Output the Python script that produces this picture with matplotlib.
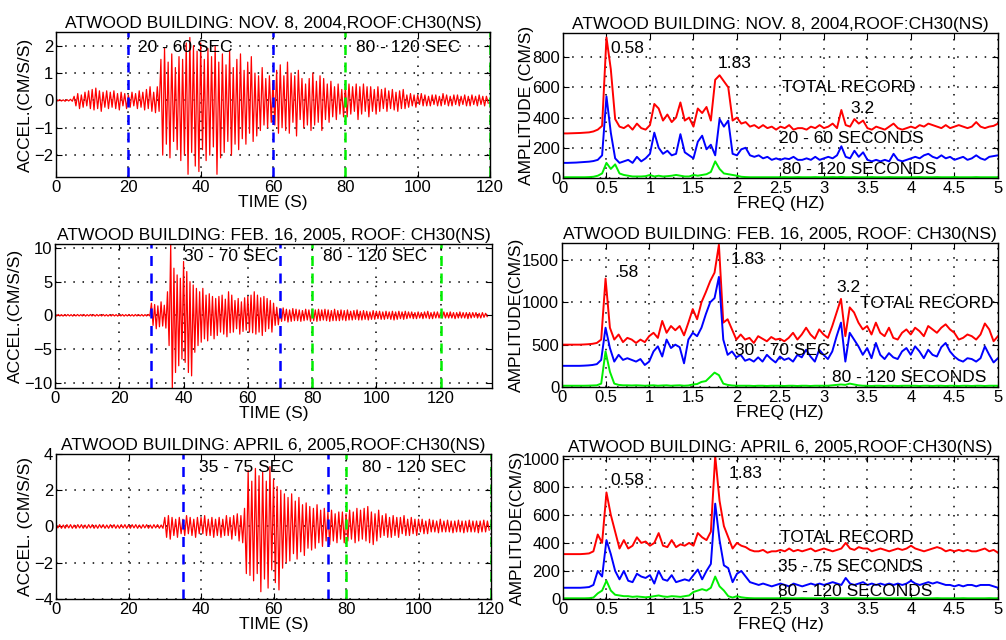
import numpy as np
import matplotlib
matplotlib.use('Agg')
import matplotlib.pyplot as plt

plt.rcParams['font.family'] = ['Liberation Sans', 'DejaVu Sans']

DT = 0.5      # sample step of the acceleration traces (s)
DF = 0.05     # frequency step of the spectra (Hz)
FS = 12.5     # titles, axis labels and notes
TS = 12       # tick labels

TITLES = ['ATWOOD BUILDING: NOV. 8, 2004,ROOF:CH30(NS)',
          'ATWOOD BUILDING: FEB. 16, 2005, ROOF: CH30(NS)',
          'ATWOOD BUILDING: APRIL 6, 2005,ROOF:CH30(NS)']

# acceleration records (cm/s/s), one value every DT seconds
acc_nov = [
    0.02, -0.02, 0.03, -0.02, 0.02, -0.03, 0.03, -0.02, 0.04, -0.03,
    0.15, -0.2, 0.25, -0.3, 0.2, -0.25, 0.3, -0.2, 0.35, -0.3,
    0.4, -0.35, 0.45, -0.3, 0.35, -0.4, 0.3, -0.25, 0.35, -0.3,
    0.3, -0.25, 0.35, -0.3, 0.25, -0.35, 0.3, -0.2, 0.25, -0.3,
    0.2, -0.25, 0.3, -0.2, 0.25, -0.3, 0.35, -0.25, 0.3, -0.35,
    0.4, -0.3, 0.5, -0.4, 0.3, -0.45, 0.5, -0.4, 1.5, -2.0,
    1.9, -1.6, 1.4, -2.1, 1.7, -1.5, 1.2, -1.8, 1.6, -2.2,
    1.5, -2.0, 2.1, -2.7, 2.3, -1.9, 2.0, -2.4, 1.8, -2.6,
    2.1, -1.8, 1.5, -2.2, 1.9, -2.0, 1.6, -1.7, 2.0, -2.7,
    1.4, -2.1, 1.7, -1.9, 1.3, -1.5, 1.8, -2.0, 1.2, -1.6,
    1.5, -1.8, 1.7, -1.4, 1.1, -1.6, 1.4, -1.2, 1.6, -1.5,
    1.0, -1.3, 0.9, -1.1, 1.2, -0.9, 0.8, -1.0, 0.9, -0.8,
    0.7, -0.9, 1.1, -1.2, 1.3, -1.0, 0.9, -1.1, 1.4, -1.2,
    1.0, -0.8, 0.9, -1.3, 1.1, -0.7, 0.8, -1.0, 0.6, -0.9,
    0.8, -1.1, 1.0, -0.9, 0.7, -0.8, 0.9, -1.1, 0.8, -0.7,
    0.6, -0.8, 0.7, -0.6, 0.5, -0.7, 0.6, -0.5, 0.4, -0.6,
    0.5, -0.6, 0.6, -0.5, 0.5, -0.4, 0.6, -0.7, 0.5, -0.5,
    0.6, -0.4, 0.5, -0.6, 0.5, -0.4, 0.4, -0.5, 0.5, -0.4,
    0.4, -0.3, 0.45, -0.4, 0.35, -0.3, 0.4, -0.35, 0.3, -0.4,
    0.35, -0.3, 0.4, -0.3, 0.2, -0.25, 0.25, -0.2, 0.2, -0.25,
    0.2, -0.15, 0.25, -0.2, 0.2, -0.2, 0.15, -0.2, 0.2, -0.15,
    0.2, -0.2, 0.15, -0.2, 0.25, -0.15, 0.2, -0.2, 0.15, -0.2,
    0.2, -0.15, 0.2, -0.2, 0.15, -0.15, 0.2, -0.2, 0.15, -0.2,
    0.2, -0.15, 0.15, -0.2, 0.2, -0.15, 0.15, -0.2, 0.15, -0.1,
]
acc_feb = [
    0.1, -0.1, 0.12, -0.1, 0.1, -0.12, 0.1, -0.1, 0.12, -0.1,
    0.1, -0.12, 0.1, -0.1, 0.12, -0.1, 0.1, -0.1, 0.12, -0.12,
    0.1, -0.1, 0.12, -0.1, 0.1, -0.12, 0.12, -0.1, 0.1, -0.1,
    0.12, -0.1, 0.1, -0.12, 0.1, -0.1, 0.12, -0.1, 0.1, -0.12,
    0.1, -0.1, 0.12, -0.12, 0.1, -0.1, 0.12, -0.1, 0.1, -0.12,
    0.12, -0.1, 0.1, -0.1, 0.12, -0.12, 0.1, -0.1, 0.12, -0.1,
    1.8, -1.5, 1.6, -2.0, 1.4, -1.7, 2.0, -1.6, 1.5, -1.9,
    3.5, -4.5, 10.5, -10.8, 7.0, -8.5, 6.0, -7.5, 5.5, -6.5,
    8.0, -7.0, 6.5, -8.5, 5.0, -9.0, 4.5, -5.5, 4.0, -4.5,
    3.5, -4.0, 4.0, -3.5, 3.0, -3.8, 3.2, -3.0, 2.8, -3.5,
    2.5, -3.0, 2.8, -2.5, 3.0, -2.8, 2.4, -3.2, 3.5, -2.6,
    3.0, -2.5, 2.2, -2.0, 2.5, -2.8, 2.0, -2.4, 2.6, -2.2,
    2.8, -2.5, 3.0, -2.6, 3.5, -2.8, 3.0, -2.5, 2.6, -3.0,
    2.8, -2.4, 2.5, -2.0, 2.2, -2.5, 1.8, -1.5, 1.2, -1.4,
    1.0, -0.9, 1.1, -0.8, 0.9, -1.0, 0.8, -0.9, 1.0, -0.8,
    0.9, -0.8, 0.8, -0.9, 0.7, -0.8, 0.9, -0.7, 0.8, -0.9,
    0.9, -0.8, 0.8, -0.9, 0.9, -0.8, 0.8, -0.7, 0.9, -0.8,
    0.8, -0.9, 0.7, -0.8, 0.9, -0.8, 0.7, -0.8, 0.8, -0.7,
    0.7, -0.8, 0.8, -0.7, 0.6, -0.7, 0.7, -0.6, 0.8, -0.7,
    0.6, -0.7, 0.7, -0.6, 0.6, -0.7, 0.5, -0.6, 0.7, -0.6,
    0.6, -0.5, 0.6, -0.6, 0.5, -0.6, 0.6, -0.5, 0.5, -0.6,
    0.6, -0.7, 0.5, -0.6, 0.6, -0.5, 0.5, -0.6, 0.6, -0.5,
    0.5, -0.4, 0.5, -0.5, 0.4, -0.5, 0.5, -0.4, 0.4, -0.5,
    0.5, -0.4, 0.6, -0.5, 0.4, -0.5, 0.5, -0.4, 0.5, -0.4,
    0.4, -0.4, 0.5, -0.4, 0.4, -0.4, 0.5, -0.4, 0.4, -0.5,
    0.4, -0.4, 0.5, -0.4, 0.4, -0.4, 0.4, -0.5, 0.4, -0.4,
    0.4, -0.3, 0.4, -0.4, 0.3, -0.4, 0.4, -0.3, 0.3, -0.2,
]
acc_apr = [
    0.1, -0.08, 0.1, -0.1, 0.08, -0.1, 0.1, -0.08, 0.1, -0.1,
    0.08, -0.1, 0.1, -0.08, 0.1, -0.1, 0.08, -0.1, 0.1, -0.08,
    0.1, -0.1, 0.08, -0.1, 0.1, -0.08, 0.1, -0.1, 0.08, -0.1,
    0.1, -0.08, 0.1, -0.1, 0.08, -0.1, 0.1, -0.08, 0.1, -0.1,
    0.08, -0.1, 0.1, -0.08, 0.1, -0.1, 0.08, -0.1, 0.1, -0.08,
    0.1, -0.1, 0.08, -0.1, 0.1, -0.08, 0.1, -0.1, 0.08, -0.1,
    0.5, -0.6, 0.6, -0.7, 0.5, -0.5, 0.4, -0.6, 0.5, -0.4,
    0.4, -0.5, 0.6, -0.4, 0.5, -0.5, 0.4, -0.6, 0.5, -0.4,
    0.5, -0.4, 0.6, -0.5, 0.4, -0.5, 0.5, -0.6, 0.4, -0.5,
    0.5, -0.6, 0.4, -0.5, 0.6, -0.5, 0.5, -0.7, 0.6, -0.5,
    0.7, -0.8, 0.6, -0.9, 1.0, -2.6, 3.1, -2.7, 2.5, -3.0,
    3.2, -2.6, 2.8, -3.6, 3.0, -2.9, 2.5, -3.4, 3.3, -2.4,
    2.6, -3.1, 2.2, -3.5, 2.0, -2.3, 1.8, -2.0, 1.6, -1.9,
    1.8, -1.5, 1.4, -1.8, 1.6, -1.4, 1.2, -1.6, 1.3, -1.2,
    1.1, -1.3, 1.0, -1.2, 1.2, -0.9, 0.9, -1.1, 1.0, -0.8,
    0.8, -1.0, 0.9, -0.8, 0.7, -0.9, 0.8, -0.7, 0.8, -0.9,
    0.7, -0.8, 0.9, -0.7, 0.8, -0.9, 1.0, -0.8, 0.9, -0.7,
    1.0, -0.8, 1.1, -0.9, 0.8, -1.0, 0.7, -0.8, 0.9, -0.6,
    0.6, -0.5, 0.7, -0.6, 0.5, -0.6, 0.6, -0.5, 0.5, -0.6,
    0.5, -0.4, 0.6, -0.5, 0.4, -0.5, 0.5, -0.4, 0.4, -0.5,
    0.4, -0.3, 0.4, -0.4, 0.3, -0.4, 0.4, -0.3, 0.35, -0.3,
    0.3, -0.35, 0.4, -0.3, 0.3, -0.3, 0.35, -0.3, 0.3, -0.35,
    0.3, -0.3, 0.35, -0.3, 0.3, -0.35, 0.3, -0.3, 0.35, -0.3,
    0.3, -0.3, 0.3, -0.35, 0.3, -0.3, 0.35, -0.3, 0.3, -0.2,
]

# Fourier amplitude spectra (cm/s), one value every DF Hz from 0 to 5 Hz
spec_nov_total = [
    295, 295, 296, 297, 298, 300, 302, 308, 320, 345,
    930, 720, 390, 340, 330, 350, 320, 360, 330, 320,
    350, 490, 460, 380, 420, 370, 400, 500, 380, 400,
    340, 460, 430, 470, 380, 650, 680, 640, 600, 380,
    400, 360, 370, 340, 350, 330, 350, 330, 340, 320,
    340, 330, 350, 320, 330, 330, 320, 340, 330, 350,
    330, 340, 360, 330, 450, 350, 340, 390, 360, 380,
    330, 320, 340, 330, 320, 340, 360, 330, 320, 330,
    340, 330, 350, 340, 360, 350, 340, 330, 350, 330,
    340, 350, 340, 330, 340, 370, 340, 330, 340, 345,
    360,
]
spec_nov_win1 = [
    100, 100, 101, 102, 104, 106, 108, 112, 120, 150,
    540, 300, 130, 100, 110, 120, 100, 140, 110, 130,
    160, 300, 200, 160, 180, 150, 160, 290, 170, 150,
    130, 240, 280, 190, 220, 150, 390, 340, 380, 160,
    150, 190, 200, 150, 140, 150, 130, 140, 120, 130,
    120, 130, 125, 140, 120, 120, 130, 120, 140, 120,
    130, 140, 130, 150, 210, 140, 130, 180, 140, 170,
    120, 110, 120, 110, 120, 110, 160, 120, 110, 120,
    130, 140, 130, 150, 160, 140, 130, 150, 130, 140,
    120, 130, 140, 120, 130, 150, 130, 120, 140, 145,
    150,
]
spec_nov_win2 = [
    5, 5, 5, 5, 5, 5, 6, 8, 15, 30,
    100, 60, 90, 30, 20, 15, 10, 10, 10, 12,
    20, 10, 15, 10, 12, 15, 20, 15, 10, 10,
    20, 15, 20, 25, 40, 110, 60, 30, 25, 20,
    15, 8, 6, 5, 5, 5, 5, 5, 5, 5,
    5, 6, 5, 5, 6, 5, 5, 5, 6, 5,
    5, 5, 6, 5, 7, 5, 5, 6, 5, 5,
    5, 6, 5, 5, 5, 6, 5, 5, 5, 5,
    5, 5, 6, 5, 5, 5, 6, 5, 5, 5,
    6, 5, 5, 5, 5, 6, 5, 5, 5, 5,
    5,
]

spec_feb_total = [
    500, 500, 500, 500, 500, 502, 505, 510, 520, 560,
    1280, 700, 560, 620, 530, 580, 560, 520, 560, 530,
    600, 640, 580, 780, 640, 720, 670, 720, 610, 760,
    920, 800, 1000, 1120, 1250, 1350, 1680, 760, 800, 680,
    560, 620, 560, 580, 520, 600, 570, 540, 590, 560,
    570, 540, 580, 640, 560, 620, 700, 620, 570, 680,
    620, 580, 720, 880, 1040, 600, 940, 880, 760, 680,
    720, 620, 760, 640, 600, 700, 580, 560, 640, 680,
    620, 700, 660, 600, 720, 680, 640, 700, 740, 680,
    640, 560, 580, 620, 600, 560, 620, 750, 680, 540,
    600,
]
spec_feb_win1 = [
    250, 250, 250, 250, 250, 252, 255, 260, 270, 320,
    700, 460, 300, 380, 320, 340, 320, 300, 330, 260,
    300, 420, 480, 360, 560, 460, 500, 470, 280, 560,
    640, 600, 700, 860, 1000, 1050, 1300, 560, 380, 420,
    350, 380, 310, 330, 300, 350, 300, 380, 330, 290,
    360, 320, 340, 300, 380, 350, 440, 360, 300, 440,
    380, 330, 420, 600, 760, 300, 640, 560, 480, 380,
    460, 340, 520, 380, 330, 400, 350, 330, 420, 460,
    380, 480, 420, 340, 440, 380, 360, 470, 520, 420,
    360, 320, 300, 340, 330, 300, 340, 480, 380, 290,
    340,
]
spec_feb_win2 = [
    15, 15, 15, 15, 15, 15, 16, 18, 20, 40,
    420, 180, 40, 25, 20, 20, 18, 20, 18, 15,
    18, 20, 15, 18, 20, 15, 18, 20, 15, 18,
    30, 35, 60, 70, 120, 170, 140, 40, 25, 18,
    15, 15, 15, 15, 12, 15, 15, 12, 15, 15,
    15, 12, 15, 15, 12, 15, 15, 12, 15, 15,
    15, 15, 20, 25, 30, 25, 40, 30, 20, 15,
    15, 12, 15, 15, 12, 15, 15, 12, 15, 15,
    15, 15, 12, 15, 15, 12, 15, 15, 12, 15,
    15, 12, 15, 15, 12, 15, 15, 12, 15, 15,
    15,
]

spec_apr_total = [
    320, 320, 320, 320, 320, 322, 325, 340, 460, 400,
    760, 600, 480, 360, 420, 360, 380, 440, 400, 410,
    380, 400, 470, 380, 370, 420, 370, 390, 380, 400,
    380, 470, 440, 420, 480, 1020, 700, 520, 440, 360,
    400, 380, 370, 350, 340, 340, 350, 330, 340, 340,
    350, 340, 360, 340, 350, 340, 350, 360, 340, 350,
    360, 350, 340, 350, 360, 400, 360, 350, 370, 360,
    360, 340, 350, 360, 350, 340, 350, 360, 350, 360,
    380, 360, 350, 340, 350, 360, 370, 360, 340, 350,
    340, 350, 340, 350, 340, 340, 350, 360, 340, 350,
    330,
]
spec_apr_win1 = [
    80, 80, 80, 80, 80, 82, 85, 100, 200, 160,
    420, 320, 200, 140, 200, 130, 120, 180, 160, 150,
    170, 110, 200, 140, 130, 170, 120, 130, 140, 130,
    170, 210, 140, 200, 250, 680, 420, 240, 220, 120,
    180, 200, 160, 120, 110, 100, 110, 100, 90, 100,
    110, 100, 90, 110, 100, 90, 100, 110, 100, 110,
    100, 110, 120, 110, 100, 150, 110, 100, 110, 120,
    100, 110, 100, 110, 100, 110, 100, 110, 100, 110,
    130, 110, 100, 110, 120, 110, 120, 110, 100, 100,
    90, 100, 90, 100, 100, 90, 100, 100, 100, 90,
    80,
]
spec_apr_win2 = [
    5, 5, 5, 5, 5, 5, 6, 10, 40, 60,
    130, 60, 30, 25, 20, 20, 15, 18, 15, 12,
    15, 20, 25, 18, 15, 20, 18, 15, 20, 25,
    50, 60, 70, 60, 80, 160, 90, 60, 20, 10,
    20, 12, 8, 6, 5, 5, 5, 5, 5, 5,
    5, 6, 5, 5, 5, 6, 5, 5, 5, 5,
    5, 5, 6, 5, 5, 5, 5, 6, 5, 5,
    5, 5, 5, 6, 5, 5, 5, 5, 6, 5,
    5, 6, 5, 5, 5, 5, 6, 5, 5, 5,
    5, 5, 6, 5, 5, 5, 5, 5, 6, 5,
    5,
]

# window limits (s) for the first / second analysed segment
win1 = [(20, 60), (30, 70), (35, 75)]
win2 = [(80, 120), (80, 120), (80, 120)]

GRID = dict(color='black', linestyle=(0, (1, 5)), linewidth=1.1)


def style_axes(ax):
    ax.grid(True, **GRID)
    ax.tick_params(direction='in', length=4, top=True, right=True, labelsize=TS, pad=2)
    for s in ax.spines.values():
        s.set_linewidth(1.0)


def draw_record(ax, acc, title, ylabel, ylim, yticks, xmax, w1, w2, lab1, lab2, lab_y):
    t = np.arange(len(acc)) * DT
    ax.plot(t, acc, color='#ff0000', linewidth=0.9)
    for x in w1:
        ax.axvline(x, color='#0000ff', linestyle=(0, (4, 3)), linewidth=1.8)
    for x in w2:
        ax.axvline(x, color='#00ee00', linestyle=(0, (4, 3)), linewidth=1.8)
    ax.set_xlim(0, xmax)
    ax.set_ylim(*ylim)
    ax.set_yticks(yticks)
    ax.set_xticks(range(0, int(xmax) + 1, 20))
    ax.set_title(title, fontsize=FS, pad=3)
    ax.set_xlabel('TIME (S)', fontsize=FS, labelpad=0.5)
    ax.set_ylabel(ylabel, fontsize=FS, labelpad=1)
    ax.text(lab1, lab_y, '%d - %d SEC' % w1, fontsize=FS, va='center')
    ax.text(lab2, lab_y, '%d - %d SEC' % w2, fontsize=FS, va='center')
    style_axes(ax)


def draw_spectrum(ax, total, s1, s2, title, ylabel, xlabel, ylim, yticks, notes):
    f = np.arange(len(total)) * DF
    ax.plot(f, total, color='#ff0000', linewidth=1.4)
    ax.plot(f, s1, color='#0000ff', linewidth=1.4)
    ax.plot(f, s2, color='#00ee00', linewidth=1.4)
    ax.set_xlim(0, 5)
    ax.set_ylim(*ylim)
    ax.set_yticks(yticks)
    ax.set_xticks(np.arange(0, 5.01, 0.5))
    ax.set_xticklabels(['0', '0.5', '1', '1.5', '2', '2.5', '3', '3.5', '4', '4.5', '5'])
    ax.set_title(title, fontsize=FS, pad=3)
    ax.set_xlabel(xlabel, fontsize=FS, labelpad=0.5)
    ax.set_ylabel(ylabel, fontsize=FS, labelpad=-1)
    for x, y, s in notes:
        ax.text(x, y, s, fontsize=FS, va='center')
    style_axes(ax)


fig = plt.figure(figsize=(10.06, 6.40), dpi=100)

ax = fig.add_axes([0.0557, 0.7234, 0.4314, 0.2266])
draw_record(ax, acc_nov, TITLES[0], 'ACCEL.(CM/S/S)', (-2.8, 2.5), [-2, -1, 0, 1, 2], 120,
            win1[0], win2[0], 22.7, 83, 1.95)
ax = fig.add_axes([0.0547, 0.3938, 0.4344, 0.2250])
draw_record(ax, acc_feb, TITLES[1], 'ACCEL.(CM/S/S)', (-10.8, 10.6), [-10, -5, 0, 5, 10], 136,
            win1[1], win2[1], 40, 83.4, 8.7)
ax = fig.add_axes([0.0557, 0.0641, 0.4324, 0.2266])
draw_record(ax, acc_apr, TITLES[2], 'ACCEL. (CM/S/S)', (-4, 4), [-4, -2, 0, 2, 4], 120,
            win1[2], win2[2], 39.5, 84.5, 3.26)

ax = fig.add_axes([0.5596, 0.7219, 0.4324, 0.2266])
draw_spectrum(ax, spec_nov_total, spec_nov_win1, spec_nov_win2, TITLES[0],
              'AMPLITUDE (CM/S)', 'FREQ (HZ)', (0, 960), [0, 200, 400, 600, 800],
              [(0.54, 860, '0.58'), (1.78, 760, '1.83'), (2.52, 600, 'TOTAL RECORD'),
               (3.3, 460, '3.2'), (2.48, 264, '20 - 60 SECONDS'), (2.52, 53, '80 - 120 SECONDS')])
ax = fig.add_axes([0.5586, 0.3953, 0.4334, 0.2250])
draw_spectrum(ax, spec_feb_total, spec_feb_win1, spec_feb_win2, TITLES[1],
              'AMPLITUDE(CM/S)', 'FREQ (HZ)', (0, 1700), [0, 500, 1000, 1500],
              [(0.6, 1350, '.58'), (1.93, 1500, '1.83'), (3.15, 1170, '3.2'),
               (3.42, 990, 'TOTAL RECORD'), (1.98, 434, '30 - 70 SEC'),
               (3.1, 115, '80 - 120 SECONDS')])
ax = fig.add_axes([0.5596, 0.0641, 0.4324, 0.2234])
draw_spectrum(ax, spec_apr_total, spec_apr_win1, spec_apr_win2, TITLES[2],
              'AMPLITUDE(CM/S)', 'FREQ (Hz)', (0, 1020), [0, 200, 400, 600, 800, 1000],
              [(0.54, 846, '0.58'), (1.9, 895, '1.83'), (2.49, 442, 'TOTAL RECORD'),
               (2.47, 230, '35 - 75 SECONDS'), (2.47, 52, '80 - 120 SECONDS')])

fig.savefig('out.png', dpi=100)
